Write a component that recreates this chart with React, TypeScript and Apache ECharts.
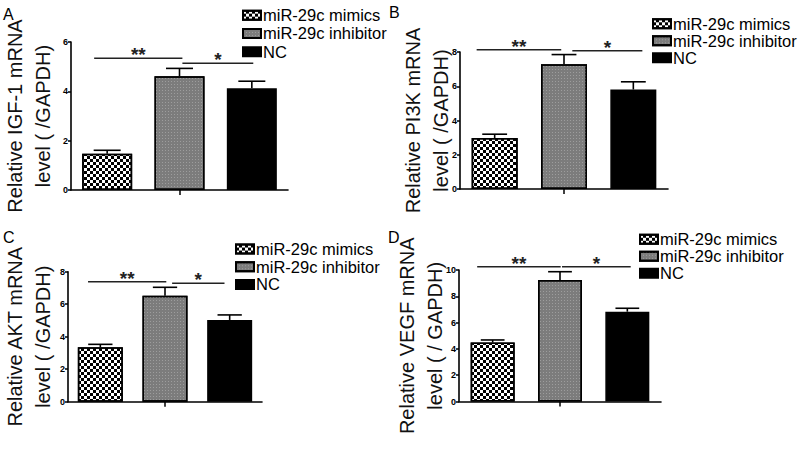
import React, { useEffect, useRef } from 'react';
import * as echarts from 'echarts';

// ---- data ----
const groups = ['miR-29c mimics', 'miR-29c inhibitor', 'NC'];
const panelLetters = ['A', 'B', 'C', 'D'];
const yTitles = [
  'Relative IGF-1 mRNA\nlevel ( /GAPDH)',
  'Relative PI3K mRNA\nlevel ( /GAPDH)',
  'Relative AKT mRNA\nlevel ( /GAPDH)',
  'Relative VEGF mRNA\nlevel ( / GAPDH)',
];
const yMax = [6, 8, 8, 10];
const yInterval = 2;

const igf1Mean = [1.47, 4.61, 4.12];
const igf1Sd = [0.14, 0.32, 0.29];
const pi3kMean = [2.98, 7.28, 5.81];
const pi3kSd = [0.22, 0.57, 0.45];
const aktMean = [3.35, 6.52, 5.03];
const aktSd = [0.18, 0.52, 0.31];
const vegfMean = [4.48, 9.24, 6.83];
const vegfSd = [0.2, 0.63, 0.26];

const means = [igf1Mean, pi3kMean, aktMean, vegfMean];
const sds = [igf1Sd, pi3kSd, aktSd, vegfSd];

// significance bars: heights (data units) and spans (category units)
const sigDoubleY = [5.34, 8.13, 7.38, 10.25];
const sigSingleY = [5.14, 8.07, 7.29, 10.25];
const sigDoubleSpan = [[-0.18, 1.04], [-0.26, 0.96], [-0.19, 1.02], [-0.23, 1.01]];
const sigSingleSpan = [[1.04, 2.02], [1.12, 2.13], [1.11, 1.92], [1.03, 2.05]];

// ---- layout ----
const FONT = 'Liberation Sans, Arial, Helvetica, sans-serif';
const grids = [
  { left: 65, top: 42, width: 223, height: 148 },
  { left: 460, top: 52, width: 208, height: 137 },
  { left: 62, top: 271.7, width: 200, height: 130 },
  { left: 459, top: 270, width: 202, height: 131.5 },
];
const barWidths = [50, 46, 45, 44];
const nameGaps = [14, 5, 11, 10];
const legendPos = [
  { left: 242, top: 6, lh: 18.3 },
  { left: 652, top: 15.3, lh: 16 },
  { left: 235, top: 240.2, lh: 17.7 },
  { left: 639, top: 230.8, lh: 16.3 },
];
const letterPos = [
  { left: 3, top: 6 },
  { left: 389, top: 4 },
  { left: 3, top: 229 },
  { left: 388, top: 229 },
];

const groupStyles = [
  {
    color: '#ffffff',
    borderColor: '#000',
    borderWidth: 1.5,
    decal: {
      symbol: 'rect',
      symbolSize: 1,
      color: '#000',
      dashArrayX: [[2.5, 2.5], [0, 2.5, 2.5, 0]],
      dashArrayY: [2.5, 0],
      rotation: 0,
    },
  },
  {
    color: '#7c7c7c',
    borderColor: '#000',
    borderWidth: 1.5,
    decal: {
      symbol: 'rect',
      symbolSize: 1,
      color: 'rgba(175,175,175,0.65)',
      dashArrayX: [1, 2],
      dashArrayY: [1, 2],
      rotation: 0,
    },
  },
  { color: '#000000', borderColor: '#000', borderWidth: 1.5 },
];

function buildOption() {
  const series: any[] = [];
  for (let p = 0; p < 4; p++) {
    groups.forEach((g, k) => {
      series.push({
        type: 'bar',
        name: g,
        xAxisIndex: p,
        yAxisIndex: p,
        barWidth: barWidths[p],
        barGap: '-100%',
        itemStyle: groupStyles[k],
        emphasis: { disabled: true },
        data: groups.map((_, j) => (j === k ? means[p][j] : '-')),
        z: 2,
      });
    });
    const capHalf = barWidths[p] * 0.27;
    series.push({
      type: 'custom',
      name: 'err' + p,
      xAxisIndex: p,
      yAxisIndex: p,
      z: 5,
      encode: { x: 0, y: 1 },
      data: means[p].map((m, j) => [j, m, sds[p][j]]),
      renderItem: (params: any, api: any) => {
        const x = api.value(0);
        const m = api.value(1);
        const s = api.value(2);
        const base = api.coord([x, m]);
        const top = api.coord([x, m + s]);
        const st = { stroke: '#000', lineWidth: 1.6 };
        return {
          type: 'group',
          children: [
            { type: 'line', shape: { x1: base[0], y1: base[1], x2: top[0], y2: top[1] }, style: st },
            { type: 'line', shape: { x1: top[0] - capHalf, y1: top[1], x2: top[0] + capHalf, y2: top[1] }, style: st },
          ],
        };
      },
    });
  }

  return {
    animation: false,
    backgroundColor: '#fff',
    textStyle: { fontFamily: FONT },
    title: panelLetters.map((t, p) => ({
      text: t,
      left: letterPos[p].left,
      top: letterPos[p].top,
      padding: 0,
      textStyle: { fontSize: 16, fontWeight: 'normal', color: '#000', fontFamily: FONT },
    })),
    legend: legendPos.map((lp) => ({
      orient: 'vertical',
      left: lp.left,
      top: lp.top,
      padding: 0,
      itemGap: 0,
      itemWidth: 18,
      itemHeight: 9,
      selectedMode: false,
      icon: 'rect',
      data: groups,
      textStyle: {
        fontSize: 16.5,
        color: '#000',
        fontFamily: FONT,
        lineHeight: lp.lh,
        padding: [0, 0, 0, -3],
      },
    })),
    grid: grids.map((g) => ({ ...g, containLabel: false })),
    xAxis: grids.map((_, p) => ({
      type: 'category',
      gridIndex: p,
      data: groups,
      boundaryGap: true,
      axisLine: { lineStyle: { color: '#000', width: 1.6 } },
      axisTick: {
        show: true,
        alignWithLabel: true,
        interval: (i: number) => i === 1,
        length: 5,
        lineStyle: { color: '#000', width: 1.5 },
      },
      axisLabel: { show: false },
      splitLine: { show: false },
    })),
    yAxis: grids.map((_, p) => ({
      type: 'value',
      gridIndex: p,
      min: 0,
      max: yMax[p],
      interval: yInterval,
      name: yTitles[p],
      nameLocation: 'middle',
      nameRotate: 90,
      nameGap: nameGaps[p],
      nameMoveOverlap: false,
      nameTextStyle: { fontSize: 20, color: '#111', lineHeight: 28, fontFamily: FONT },
      axisLine: { show: true, lineStyle: { color: '#000', width: 1.6 } },
      axisTick: { show: true, length: 3, lineStyle: { color: '#000', width: 1.5 } },
      axisLabel: { fontSize: 9, fontWeight: 'bold', color: '#000', margin: 3, fontFamily: FONT },
      splitLine: { show: false },
    })),
    series,
  };
}

export default function App() {
  const ref = useRef<HTMLDivElement>(null);
  useEffect(() => {
    if (!ref.current) return;
    const chart = echarts.init(ref.current, undefined, { renderer: 'svg' });
    chart.setOption(buildOption() as any);

    const graphic: any[] = [];
    for (let p = 0; p < 4; p++) {
      const c0 = chart.convertToPixel({ gridIndex: p } as any, [0, 0]) as number[];
      const c1 = chart.convertToPixel({ gridIndex: p } as any, [1, 0]) as number[];
      if (!c0 || !c1) continue;
      const step = c1[0] - c0[0];
      const xAt = (u: number) => c0[0] + u * step;
      const yD = (chart.convertToPixel({ gridIndex: p } as any, [0, sigDoubleY[p]]) as number[])[1];
      const yS = (chart.convertToPixel({ gridIndex: p } as any, [0, sigSingleY[p]]) as number[])[1];
      const lineStyle = { stroke: '#222', lineWidth: 1.6 };
      const dx1 = xAt(sigDoubleSpan[p][0]);
      const dx2 = xAt(sigDoubleSpan[p][1]);
      const sx1 = xAt(sigSingleSpan[p][0]);
      const sx2 = xAt(sigSingleSpan[p][1]);
      graphic.push(
        { type: 'line', shape: { x1: dx1, y1: yD, x2: dx2, y2: yD }, style: lineStyle, z: 10 },
        { type: 'line', shape: { x1: sx1, y1: yS, x2: sx2, y2: yS }, style: lineStyle, z: 10 },
        {
          type: 'text',
          x: (dx1 + dx2) / 2,
          y: yD + 6,
          style: { text: '**', fill: '#222', font: `bold 19px ${FONT}`, textAlign: 'center', textVerticalAlign: 'bottom' },
          z: 10,
        },
        {
          type: 'text',
          x: (sx1 + sx2) / 2,
          y: yS + 6,
          style: { text: '*', fill: '#222', font: `bold 19px ${FONT}`, textAlign: 'center', textVerticalAlign: 'bottom' },
          z: 10,
        }
      );
    }
    chart.setOption({ graphic });

    return () => chart.dispose();
  }, []);
  return (
    <div
      ref={ref}
      style={{ position: 'absolute', left: 0, top: 0, width: 800, height: 451, background: '#fff' }}
    />
  );
}
